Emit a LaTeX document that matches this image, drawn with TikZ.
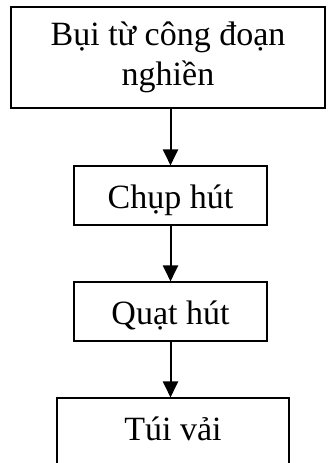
\documentclass[tikz,border=0pt]{standalone}
\usepackage{fontspec}
\setmainfont{Liberation Serif}
\usetikzlibrary{arrows.meta}
\begin{document}
\begin{tikzpicture}[x=1pt,y=-1pt,
  box/.style={draw, line width=1.1pt, inner sep=0pt, font=\fontsize{34}{40}\selectfont},
  arr/.style={line width=2pt, -{Triangle[length=16pt,width=15pt]}}]
\useasboundingbox (0,0) rectangle (327,463);
\clip (0,0) rectangle (327,463);
\node[box, minimum width=314pt, minimum height=101pt, align=center] (b1) at (168,57.5) {Bụi từ công đoạn\\nghiền};
\node[box, anchor=base, minimum width=193pt, text height=42pt, text depth=17pt] (b2) at (170.5,208) {Chụp hút};
\node[box, anchor=base, minimum width=193pt, text height=42pt, text depth=17pt] (b3) at (170.5,324) {Quạt hút};
\node[box, anchor=base, minimum width=232pt, text height=42pt, text depth=40pt] (b4) at (173,440) {Túi vải};
\draw[arr] (b2.north |- b1.south) -- (b2.north);
\draw[arr] (b2.south) -- (b3.north);
\draw[arr] (b3.south) -- (b3.south |- b4.north);
\end{tikzpicture}
\end{document}
